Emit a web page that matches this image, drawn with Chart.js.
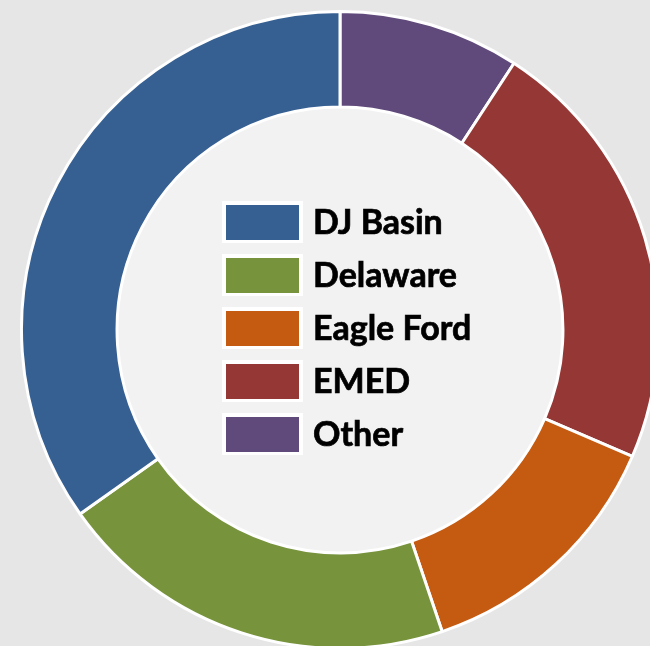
<!DOCTYPE html>
<html>
<head>
<meta charset="utf-8">
<script src="https://cdn.jsdelivr.net/npm/chart.js@4"></script>
<style>
    html, body { margin: 0; padding: 0; background: #e6e6e6; overflow: hidden; width: 650px; height: 646px; }
    #caja { position: absolute; left: 20px; top: 10px; width: 640px; height: 640px; }
</style>
</head>
<body>
<div id="caja"><canvas id="grafico"></canvas></div>
<script>
const categorias = ['DJ Basin', 'Delaware', 'Eagle Ford', 'EMED', 'Other'];
const valores = [34.8, 20.4, 13.3, 22.3, 9.2];
const colores = ['#376092', '#77933C', '#C55A11', '#953735', '#604A7B'];

// Chart.js va en sentido horario, la imagen va al revés -> invertir
const etiquetasInv = categorias.slice().reverse();
const valoresInv = valores.slice().reverse();
const coloresInv = colores.slice().reverse();

const fondoCentro = {
    id: 'fondoCentro',
    beforeDatasetsDraw(chart) {
        const arc = chart.getDatasetMeta(0).data[0];
        if (!arc) return;
        const ctx = chart.ctx;
        ctx.save();
        ctx.fillStyle = '#f2f2f2';
        ctx.beginPath();
        ctx.arc(arc.x, arc.y, arc.innerRadius, 0, Math.PI * 2);
        ctx.fill();
        ctx.restore();
    }
};

const leyendaCentro = {
    id: 'leyendaCentro',
    afterDraw(chart) {
        const arc = chart.getDatasetMeta(0).data[0];
        if (!arc) return;
        const ctx = chart.ctx;
        const items = Chart.overrides.doughnut.plugins.legend.labels.generateLabels(chart).reverse();
        ctx.save();
        ctx.font = 'bold 34px Lato';
        ctx.textBaseline = 'alphabetic';
        ctx.lineWidth = 0.7;
        ctx.strokeStyle = '#000000';
        items.forEach((item, i) => {
            const cy = arc.y - 108 + i * 53;
            const x = arc.x - 118;
            ctx.fillStyle = '#ffffff';
            ctx.fillRect(x, cy - 21, 81, 42);
            ctx.fillStyle = item.fillStyle;
            ctx.fillRect(x + 4, cy - 17, 73, 35);
            ctx.fillStyle = '#000000';
            ctx.fillText(item.text, arc.x - 27, cy + 12);
            ctx.strokeText(item.text, arc.x - 27, cy + 12);
        });
        ctx.restore();
    }
};

new Chart(document.getElementById('grafico'), {
    type: 'doughnut',
    data: {
        labels: etiquetasInv,
        datasets: [{
            data: valoresInv,
            backgroundColor: coloresInv,
            borderColor: '#ffffff',
            borderWidth: 3,
            hoverOffset: 0
        }]
    },
    options: {
        responsive: true,
        maintainAspectRatio: false,
        animation: false,
        cutout: '70%',
        layout: { padding: 0 },
        plugins: {
            legend: { display: false },
            tooltip: { enabled: false }
        }
    },
    plugins: [fondoCentro, leyendaCentro]
});
</script>
</body>
</html>
